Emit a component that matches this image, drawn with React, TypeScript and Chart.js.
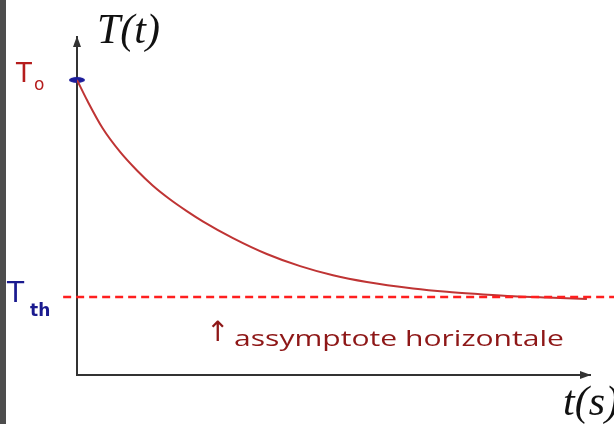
import React, { useEffect, useRef } from "react";
import { Chart, registerables } from "chart.js";

Chart.register(...registerables);

// ---- data ----
const curveX = [0, 0.2, 0.5, 0.84, 1.17, 1.48, 1.81, 2.14, 2.46, 3.04, 3.7, 4.35, 4.99, 5.65, 6.55, 7.21, 7.86, 8.5, 9.16, 9.94];
const curveY = [8.73, 8.12, 7.3, 6.6, 6.05, 5.6, 5.2, 4.85, 4.54, 4.05, 3.58, 3.22, 2.95, 2.75, 2.56, 2.46, 2.39, 2.33, 2.29, 2.25];
const T0 = 8.73;
const Tth = 2.31;
const asymptoteX = [-0.27, 10.5];
const axisLabels = { y: "T(t)", x: "t(s)" };
const annotation = "assymptote horizontale";

function makeEllipse(): HTMLCanvasElement {
  const c = document.createElement("canvas");
  c.width = 18;
  c.height = 8;
  const g = c.getContext("2d")!;
  g.fillStyle = "#1c1c9a";
  g.beginPath();
  g.ellipse(9, 4, 8, 3, 0, 0, Math.PI * 2);
  g.fill();
  return c;
}

const decor = {
  id: "decor",
  beforeDraw(chart: any) {
    const ctx = chart.ctx;
    ctx.save();
    ctx.fillStyle = "#ffffff";
    ctx.fillRect(0, 0, chart.width, chart.height);
    ctx.fillStyle = "#4d4d4d";
    ctx.fillRect(0, 0, 6, chart.height);
    ctx.restore();
  },
  afterDraw(chart: any) {
    const ctx = chart.ctx;
    const a = chart.chartArea;
    ctx.save();
    // arrow heads
    ctx.fillStyle = "#333";
    ctx.beginPath();
    ctx.moveTo(a.left, a.top - 1);
    ctx.lineTo(a.left - 4, a.top + 10);
    ctx.lineTo(a.left + 4, a.top + 10);
    ctx.closePath();
    ctx.fill();
    ctx.beginPath();
    ctx.moveTo(a.right + 1, a.bottom);
    ctx.lineTo(a.right - 10, a.bottom - 4);
    ctx.lineTo(a.right - 10, a.bottom + 4);
    ctx.closePath();
    ctx.fill();

    // axis labels
    ctx.fillStyle = "#111";
    ctx.font = "italic 42px 'Liberation Serif', 'DejaVu Serif', serif";
    ctx.textBaseline = "alphabetic";
    ctx.fillText(axisLabels.y, 97, 43);
    ctx.fillText(axisLabels.x, 563, 415);

    const ys = chart.scales.y;
    // T0
    const y0 = ys.getPixelForValue(T0);
    ctx.fillStyle = "#b51c1c";
    ctx.font = "26px 'DejaVu Sans', sans-serif";
    ctx.fillText("T", 16, y0 + 2);
    ctx.font = "17px 'DejaVu Sans', sans-serif";
    ctx.fillText("o", 34, y0 + 10);

    // Tth
    const yt = ys.getPixelForValue(Tth);
    ctx.fillStyle = "#1a1a8f";
    ctx.font = "28px 'DejaVu Sans', sans-serif";
    ctx.fillText("T", 7, yt + 5);
    ctx.font = "bold 17px 'DejaVu Sans', sans-serif";
    ctx.fillText("th", 30, yt + 19);

    // annotation
    ctx.fillStyle = "#8e1717";
    ctx.font = "28px 'DejaVu Sans', sans-serif";
    ctx.fillText("↑", 206, 341);
    ctx.font = "22px 'Open Sans', 'DejaVu Sans', sans-serif";
    const w = ctx.measureText(annotation).width;
    const target = 330;
    ctx.translate(234, 346);
    ctx.scale(target / w, 1);
    ctx.fillText(annotation, 0, 0);
    ctx.restore();
  },
};

export default function App() {
  const ref = useRef<HTMLCanvasElement>(null);
  useEffect(() => {
    const ellipse = makeEllipse();
    const chart = new Chart(ref.current!, {
      type: "scatter",
      data: {
        datasets: [
          {
            data: asymptoteX.map((x) => ({ x, y: Tth })),
            showLine: true,
            borderColor: "#ff1f1f",
            borderWidth: 2.5,
            borderDash: [8, 5],
            pointRadius: 0,
            clip: false as any,
          },
          {
            data: curveX.map((x, i) => ({ x, y: curveY[i] })),
            showLine: true,
            borderColor: "#bf3434",
            borderWidth: 2,
            cubicInterpolationMode: "monotone",
            pointRadius: 0,
          },
          {
            data: [{ x: 0, y: T0 }],
            pointStyle: ellipse as any,
            pointRadius: 8,
            clip: false as any,
          },
        ],
      },
      options: {
        responsive: false,
        animation: false,
        devicePixelRatio: 1,
        layout: { padding: { left: 77, right: 24, top: 37, bottom: 49 } },
        plugins: { legend: { display: false }, tooltip: { enabled: false } },
        scales: {
          x: {
            type: "linear",
            min: 0,
            max: 10,
            ticks: { display: false },
            grid: { display: false, drawTicks: false },
            border: { display: true, color: "#333", width: 2 },
          },
          y: {
            type: "linear",
            min: 0,
            max: 10,
            ticks: { display: false },
            grid: { display: false, drawTicks: false },
            border: { display: true, color: "#333", width: 2 },
          },
        },
      },
      plugins: [decor],
    });
    return () => chart.destroy();
  }, []);
  return (
    <div style={{ position: "fixed", left: 0, top: 0, width: 614, height: 424 }}>
      <canvas ref={ref} width={614} height={424} style={{ display: "block" }} />
    </div>
  );
}
